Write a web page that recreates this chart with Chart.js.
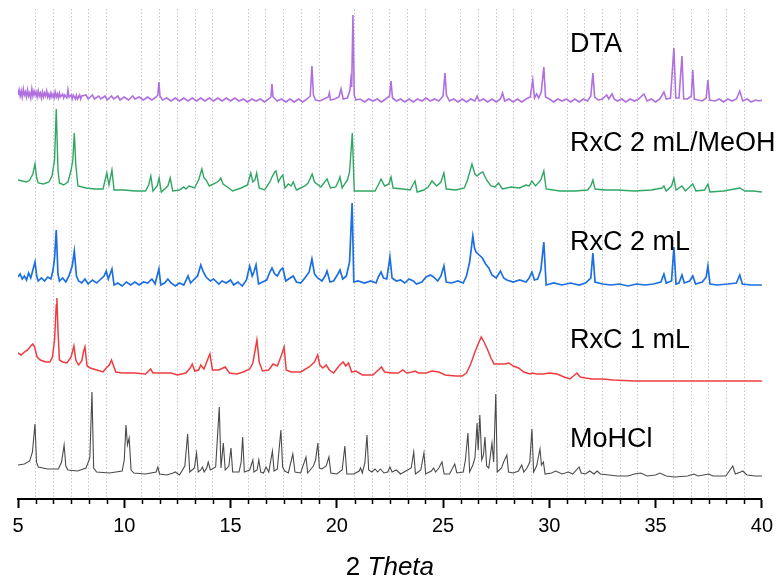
<!DOCTYPE html>
<html>
<head>
<meta charset="utf-8">
<script src="https://cdn.jsdelivr.net/npm/chart.js@4/dist/chart.umd.min.js"></script>
<style>
  html, body { margin: 0; padding: 0; background: #fff; }
  #box { width: 779px; height: 583px; }
</style>
</head>
<body>
<div id="box"><canvas id="grafico" width="779" height="583"></canvas></div>
<script>
// Series names, top to bottom
const nomes = ["DTA", "RxC 2 mL/MeOH", "RxC 2 mL", "RxC 1 mL", "MoHCl"];

// [2theta, intensity (a.u., stacked)]
const dta = [[5.0,404],[5.05,409],[5.1,403],[5.15,408],[5.2,402],[5.25,410],[5.3,404],[5.35,407],[5.4,402],[5.45,409],[5.5,403],[5.55,406],[5.6,401],[5.65,410],[5.7,403],[5.75,408],[5.8,404],[5.85,407],[5.9,402],[5.95,408],[6.0,403],[6.05,406],[6.1,401],[6.15,407],[6.2,402],[6.25,406],[6.3,403],[6.35,408],[6.4,402],[6.45,405],[6.5,401],[6.55,406],[6.6,402],[6.65,405],[6.7,401],[6.75,407],[6.8,402],[6.85,405],[6.9,401],[6.95,406],[7.0,402],[7.1,405],[7.15,401],[7.2,404],[7.3,401],[7.35,409],[7.4,402],[7.5,404],[7.55,400],[7.6,404],[7.7,400],[7.75,404],[7.8,400],[7.9,404],[7.95,400],[8.0,403],[8.2,404],[8.3,400],[8.5,404],[8.6,400],[8.8,403],[8.9,400],[9.1,403],[9.2,399],[9.4,403],[9.5,400],[9.7,403],[9.8,399],[10.0,402],[10.2,399],[10.4,403],[10.5,400],[10.7,402],[10.9,399],[11.1,402],[11.3,399],[11.5,402],[11.58,404],[11.63,417],[11.68,403],[11.8,399],[12.0,401],[12.2,398],[12.4,401],[12.6,398],[12.8,401],[13.0,398],[13.2,401],[13.4,398],[13.6,401],[13.8,398],[14.0,401],[14.2,398],[14.4,401],[14.6,398],[14.8,401],[15.0,398],[15.2,401],[15.4,398],[15.6,400],[15.8,397],[16.0,400],[16.2,398],[16.4,400],[16.6,397],[16.8,400],[16.9,402],[16.95,415],[17.0,402],[17.2,398],[17.4,400],[17.6,397],[17.8,400],[18.0,397],[18.2,400],[18.4,397],[18.6,400],[18.75,403],[18.83,433],[18.9,404],[19.0,399],[19.2,398],[19.4,400],[19.6,402],[19.65,406],[19.7,399],[19.9,400],[20.1,402],[20.2,410],[20.3,400],[20.5,401],[20.62,409],[20.66,419],[20.7,412],[20.76,484],[20.82,404],[20.9,399],[21.1,400],[21.3,397],[21.5,400],[21.7,398],[21.9,400],[22.1,397],[22.3,400],[22.48,403],[22.55,418],[22.62,401],[22.8,398],[23.0,400],[23.2,397],[23.4,400],[23.6,397],[23.8,400],[24.0,398],[24.2,401],[24.4,398],[24.6,400],[24.8,398],[25.0,403],[25.09,426],[25.16,404],[25.3,398],[25.5,400],[25.7,397],[25.9,400],[26.1,397],[26.3,400],[26.5,398],[26.6,403],[26.7,398],[26.9,400],[27.1,397],[27.3,400],[27.5,397],[27.7,400],[27.8,406],[27.9,398],[28.1,400],[28.3,397],[28.5,400],[28.7,397],[28.9,400],[29.1,402],[29.22,419],[29.3,401],[29.4,405],[29.5,401],[29.62,407],[29.74,432],[29.82,402],[30.0,400],[30.2,397],[30.4,400],[30.6,398],[30.8,400],[31.0,397],[31.2,400],[31.4,397],[31.6,400],[31.8,398],[31.95,403],[32.05,426],[32.13,402],[32.3,399],[32.5,400],[32.7,404],[32.8,400],[32.95,405],[33.05,400],[33.2,398],[33.4,400],[33.6,397],[33.8,400],[34.0,398],[34.2,400],[34.45,405],[34.6,398],[34.8,400],[35.0,397],[35.2,400],[35.39,407],[35.5,400],[35.7,401],[35.86,451],[35.95,401],[36.1,401],[36.24,443],[36.32,400],[36.5,400],[36.68,403],[36.75,429],[36.82,400],[37.0,399],[37.2,398],[37.38,401],[37.46,419],[37.54,399],[37.8,398],[38.0,400],[38.2,397],[38.4,400],[38.6,398],[38.8,400],[38.96,408],[39.1,398],[39.3,400],[39.5,397],[39.7,399],[39.9,398],[40.0,399]];

const rxc2MeOH = [[5.0,319],[5.2,318],[5.4,317],[5.55,319],[5.7,325],[5.8,335],[5.88,321],[5.95,316],[6.2,315],[6.45,317],[6.6,323],[6.72,339],[6.8,390],[6.88,329],[6.95,316],[7.15,314],[7.35,317],[7.5,329],[7.58,339],[7.65,366],[7.72,334],[7.82,313],[8.2,311],[8.6,310],[9.0,310],[9.1,319],[9.18,326],[9.28,314],[9.42,329],[9.52,309],[10.0,309],[10.5,308],[11.0,308],[11.15,314],[11.25,323],[11.35,308],[11.55,313],[11.64,321],[11.74,307],[12.05,313],[12.16,321],[12.28,308],[12.6,309],[12.8,312],[12.9,310],[13.05,313],[13.3,311],[13.5,319],[13.65,330],[13.75,321],[13.85,319],[14.0,313],[14.1,314],[14.3,316],[14.45,318],[14.54,321],[14.65,315],[14.85,312],[15.1,308],[15.5,311],[15.8,314],[15.95,326],[16.05,317],[16.15,319],[16.23,326],[16.35,311],[16.6,309],[16.85,317],[16.95,322],[17.08,327],[17.14,328],[17.25,317],[17.38,322],[17.46,324],[17.56,311],[17.72,315],[17.85,313],[17.95,317],[18.1,309],[18.5,313],[18.65,316],[18.84,325],[18.95,317],[19.25,312],[19.54,320],[19.7,311],[19.95,312],[20.1,319],[20.15,322],[20.25,311],[20.5,319],[20.6,327],[20.73,366],[20.82,308],[21.3,308],[21.8,308],[21.95,314],[22.08,320],[22.25,313],[22.45,315],[22.55,322],[22.65,311],[23.1,310],[23.45,309],[23.6,315],[23.68,318],[23.78,307],[24.1,309],[24.3,312],[24.48,318],[24.7,313],[24.9,317],[25.04,326],[25.15,310],[25.6,309],[26.0,311],[26.15,319],[26.36,335],[26.5,325],[26.6,323],[26.75,326],[26.87,327],[27.05,319],[27.25,313],[27.45,312],[27.6,316],[27.8,310],[28.2,312],[28.6,311],[28.9,314],[29.05,313],[29.18,318],[29.35,313],[29.6,319],[29.74,328],[29.85,310],[30.5,308],[31.2,308],[31.8,309],[31.95,313],[32.05,319],[32.15,310],[32.6,309],[33.2,309],[34.0,308],[34.8,309],[35.3,311],[35.39,313],[35.5,308],[35.75,313],[35.86,321],[35.96,309],[36.24,313],[36.4,308],[36.75,315],[36.9,308],[37.3,309],[37.46,315],[37.56,307],[38.2,308],[38.96,311],[39.2,308],[39.6,308],[40.0,307]];

const rxc2 = [[5.0,222],[5.1,225],[5.2,220],[5.3,223],[5.4,219],[5.5,226],[5.6,221],[5.7,229],[5.8,237],[5.88,223],[5.95,218],[6.1,221],[6.25,218],[6.4,222],[6.55,220],[6.65,229],[6.72,241],[6.8,269],[6.88,225],[6.95,218],[7.1,221],[7.25,217],[7.4,223],[7.55,233],[7.65,248],[7.75,223],[7.85,218],[8.0,216],[8.15,220],[8.3,215],[8.5,219],[8.7,216],[8.9,220],[9.05,223],[9.15,228],[9.25,220],[9.42,230],[9.52,214],[9.7,216],[9.9,213],[10.1,217],[10.3,214],[10.5,217],[10.7,214],[10.9,217],[11.1,216],[11.3,220],[11.45,215],[11.63,230],[11.72,214],[11.9,216],[12.05,220],[12.2,216],[12.4,213],[12.6,216],[12.8,214],[13.0,223],[13.12,216],[13.3,220],[13.45,223],[13.6,234],[13.72,227],[13.85,222],[14.05,218],[14.2,220],[14.45,215],[14.6,218],[14.8,216],[15.0,219],[15.15,214],[15.35,217],[15.55,213],[15.75,219],[15.9,233],[16.02,223],[16.1,227],[16.2,234],[16.32,215],[16.5,217],[16.7,219],[16.85,227],[16.95,231],[17.08,225],[17.2,223],[17.35,229],[17.46,231],[17.6,218],[17.8,221],[17.95,223],[18.1,217],[18.3,216],[18.5,221],[18.7,227],[18.83,240],[18.95,225],[19.1,221],[19.3,218],[19.45,223],[19.54,228],[19.68,217],[19.85,218],[20.05,225],[20.15,229],[20.28,220],[20.45,223],[20.6,237],[20.72,296],[20.8,217],[21.0,218],[21.3,216],[21.6,218],[21.85,216],[21.95,222],[22.08,227],[22.2,221],[22.35,220],[22.5,242],[22.6,221],[22.8,218],[23.0,219],[23.2,216],[23.4,220],[23.6,218],[23.75,215],[24.0,217],[24.2,222],[24.4,224],[24.55,222],[24.75,218],[24.9,223],[25.04,233],[25.15,217],[25.4,216],[25.7,218],[25.95,216],[26.1,223],[26.25,237],[26.4,263],[26.48,251],[26.55,247],[26.7,244],[26.85,241],[27.0,235],[27.15,231],[27.3,224],[27.5,221],[27.7,228],[27.85,221],[28.0,219],[28.3,217],[28.6,219],[28.9,217],[29.05,221],[29.18,227],[29.3,219],[29.45,220],[29.6,229],[29.74,257],[29.85,214],[30.2,216],[30.6,214],[31.0,216],[31.4,214],[31.7,216],[31.95,221],[32.05,246],[32.15,217],[32.5,215],[32.9,214],[33.3,215],[33.7,213],[34.1,215],[34.5,214],[34.9,215],[35.25,217],[35.39,225],[35.5,216],[35.75,218],[35.86,252],[35.96,215],[36.1,216],[36.24,224],[36.35,216],[36.6,218],[36.75,223],[36.88,215],[37.2,217],[37.38,222],[37.46,233],[37.56,215],[37.9,214],[38.4,215],[38.8,216],[38.96,224],[39.08,215],[39.5,214],[40.0,214]];

const rxc1 = [[5.0,146],[5.15,144],[5.3,147],[5.45,149],[5.6,153],[5.7,155],[5.78,152],[5.9,142],[6.05,139],[6.3,137],[6.5,137],[6.62,142],[6.72,159],[6.8,194],[6.83,201],[6.88,169],[6.95,139],[7.1,137],[7.3,136],[7.5,142],[7.63,153],[7.72,139],[7.85,134],[8.0,138],[8.08,147],[8.15,152],[8.25,133],[8.4,131],[8.7,129],[9.0,127],[9.15,131],[9.3,134],[9.4,139],[9.5,133],[9.6,127],[9.9,126],[10.5,126],[11.0,125],[11.15,128],[11.24,130],[11.35,126],[11.7,126],[12.2,126],[12.5,124],[12.9,126],[13.1,131],[13.2,135],[13.32,128],[13.5,129],[13.6,134],[13.75,130],[13.95,141],[14.03,145],[14.15,129],[14.45,129],[14.65,131],[14.75,132],[14.95,126],[15.3,125],[15.6,127],[15.9,130],[16.05,136],[16.24,159],[16.35,137],[16.5,128],[16.8,129],[17.0,135],[17.2,133],[17.4,144],[17.52,152],[17.62,129],[17.85,127],[18.3,127],[18.7,132],[18.95,137],[19.1,144],[19.2,134],[19.35,131],[19.5,134],[19.65,129],[19.85,126],[20.1,133],[20.3,137],[20.42,133],[20.55,136],[20.7,127],[20.9,128],[21.2,124],[21.7,124],[21.95,129],[22.1,132],[22.25,127],[22.6,126],[22.9,126],[23.1,129],[23.3,126],[23.55,127],[23.68,128],[23.85,126],[24.2,126],[24.48,128],[24.8,127],[25.1,124],[25.6,123],[25.9,123],[26.1,126],[26.3,135],[26.5,147],[26.65,155],[26.8,162],[26.95,156],[27.1,149],[27.25,141],[27.4,135],[27.6,135],[27.9,135],[28.1,136],[28.3,133],[28.55,131],[28.8,127],[29.1,125],[29.2,126],[29.4,125],[29.7,125],[30.0,126],[30.36,125],[30.7,122],[30.97,120],[31.3,126],[31.45,122],[31.7,121],[32.0,120],[32.5,120],[33.0,119],[34.0,118],[35.0,118],[36.0,118],[37.0,118],[38.0,118],[39.0,118],[40.0,118]];

const moHCl = [[5.0,34],[5.3,35],[5.55,38],[5.68,47],[5.8,75],[5.87,37],[5.95,32],[6.4,30],[6.9,30],[7.05,37],[7.17,54],[7.25,33],[7.35,29],[7.8,28],[8.2,31],[8.38,41],[8.48,107],[8.56,31],[8.7,27],[9.3,26],[9.9,28],[10.0,39],[10.08,74],[10.15,54],[10.23,61],[10.32,29],[10.45,26],[11.0,25],[11.5,27],[11.58,32],[11.66,25],[12.0,24],[12.3,26],[12.4,27],[12.6,24],[12.85,33],[12.98,65],[13.08,27],[13.3,31],[13.4,46],[13.48,27],[13.6,29],[13.68,32],[13.76,27],[13.88,31],[13.95,37],[14.05,29],[14.3,32],[14.47,92],[14.55,31],[14.66,56],[14.75,29],[14.92,33],[15.02,51],[15.1,27],[15.4,27],[15.5,37],[15.57,62],[15.65,27],[15.9,29],[16.05,39],[16.1,27],[16.25,29],[16.33,39],[16.42,27],[16.55,26],[16.67,32],[16.8,27],[16.97,48],[17.05,28],[17.2,30],[17.37,69],[17.45,32],[17.55,28],[17.72,26],[17.93,45],[18.03,27],[18.3,26],[18.55,42],[18.63,26],[18.9,33],[19.0,39],[19.11,56],[19.18,31],[19.3,30],[19.5,33],[19.63,42],[19.72,26],[20.0,25],[20.25,29],[20.38,53],[20.47,25],[20.8,25],[21.05,28],[21.12,31],[21.2,26],[21.32,36],[21.42,64],[21.5,29],[21.65,27],[21.8,30],[21.92,27],[22.05,30],[22.22,26],[22.4,27],[22.5,32],[22.6,27],[22.8,29],[23.0,25],[23.5,31],[23.62,47],[23.7,25],[23.95,29],[24.1,46],[24.18,25],[24.45,28],[24.55,31],[24.65,27],[24.8,31],[24.95,37],[25.05,25],[25.3,25],[25.55,35],[25.65,26],[25.95,27],[26.05,39],[26.17,66],[26.25,27],[26.4,34],[26.5,41],[26.6,76],[26.65,49],[26.73,84],[26.82,39],[26.9,44],[26.97,62],[27.05,33],[27.15,31],[27.3,56],[27.38,37],[27.48,105],[27.55,27],[27.75,31],[27.85,37],[28.0,44],[28.08,27],[28.3,26],[28.55,28],[28.7,34],[28.8,27],[28.95,31],[29.08,37],[29.18,70],[29.26,27],[29.4,33],[29.56,50],[29.63,34],[29.72,37],[29.8,25],[30.1,26],[30.3,28],[30.6,25],[30.9,27],[31.1,25],[31.4,32],[31.5,26],[31.7,25],[31.9,28],[32.1,25],[32.25,28],[32.4,25],[32.8,24],[33.2,23],[33.7,23],[34.0,25],[34.3,26],[34.6,23],[35.0,24],[35.2,26],[35.5,23],[35.9,22],[36.5,23],[36.8,25],[37.0,23],[37.5,25],[37.7,23],[38.3,23],[38.5,29],[38.63,33],[38.75,25],[39.0,27],[39.1,28],[39.3,24],[39.7,23],[40.0,23]];

// x axis: labels every 5, minor ticks every 5/6
const majorTicks = [5, 10, 15, 20, 25, 30, 35, 40];
const ticksX = [];
for (let i = 0; i <= 42; i++) ticksX.push(5 + i * 5 / 6);

const series = [dta, rxc2MeOH, rxc2, rxc1, moHCl];
const cores = ["#b070e0", "#2fa663", "#1b6fe0", "#ef3c3f", "#4a4a4a"];
const espessuras = [1.6, 1.4, 1.7, 1.5, 1.1];
const fonte = "'Liberation Sans', Arial, sans-serif";

const ehMajor = v => majorTicks.some(m => Math.abs(m - v) < 1e-6);

// rotulos a direita + ticks menores + titulo do eixo
const extras = {
    id: "extras",
    afterDraw(chart) {
        const ctx = chart.ctx;
        const sx = chart.scales.x;
        const sy = chart.scales.y;
        const base = chart.chartArea.bottom;

        ctx.save();
        ctx.strokeStyle = "#000";
        ctx.lineWidth = 1.5;
        sx.ticks.forEach(t => {
            if (ehMajor(t.value)) return;
            const px = Math.round(sx.getPixelForValue(t.value)) + 0.5;
            ctx.beginPath();
            ctx.moveTo(px, base);
            ctx.lineTo(px, base + 5);
            ctx.stroke();
        });

        // nomes das amostras
        const posY = [447, 348, 249, 151, 52];
        ctx.fillStyle = "#000";
        ctx.font = "27px " + fonte;
        ctx.textBaseline = "alphabetic";
        ctx.textAlign = "left";
        nomes.forEach((n, i) => {
            ctx.fillText(n, sx.getPixelForValue(30.97), sy.getPixelForValue(posY[i]));
        });

        // titulo "2 Theta"
        ctx.font = "26px " + fonte;
        const a = "2 ";
        const wa = ctx.measureText(a).width;
        ctx.font = "italic 26px " + fonte;
        const b = "Theta";
        const wb = ctx.measureText(b).width;
        const cx = (chart.chartArea.left + chart.chartArea.right) / 2;
        const x0 = cx - (wa + wb) / 2;
        ctx.font = "26px " + fonte;
        ctx.fillText(a, x0, 575);
        ctx.font = "italic 26px " + fonte;
        ctx.fillText(b, x0 + wa, 575);
        ctx.restore();
    }
};

const datasets = series.map((s, i) => ({
    label: nomes[i],
    data: s.map(p => ({ x: p[0], y: p[1] })),
    borderColor: cores[i],
    borderWidth: espessuras[i],
    pointRadius: 0,
    tension: 0,
    fill: false
}));

new Chart(document.getElementById("grafico"), {
    type: "line",
    data: { datasets },
    options: {
        responsive: false,
        animation: false,
        layout: { padding: { left: 18, right: 17, top: 9, bottom: 39 } },
        plugins: { legend: { display: false }, tooltip: { enabled: false } },
        scales: {
            x: {
                type: "linear",
                min: 5,
                max: 40,
                afterBuildTicks: s => { s.ticks = ticksX.map(v => ({ value: v })); },
                ticks: {
                    autoSkip: false,
                    maxRotation: 0,
                    padding: 6,
                    color: "#000",
                    font: { family: fonte, size: 20 },
                    callback: v => ehMajor(v) ? String(Math.round(v)) : ""
                },
                grid: {
                    color: c => (c.tick && ehMajor(c.tick.value)) ? "rgba(0,0,0,0)" : "#c8c8c8",
                    lineWidth: 1,
                    tickLength: 9,
                    tickWidth: 2,
                    tickColor: c => (c.tick && ehMajor(c.tick.value)) ? "#000" : "rgba(0,0,0,0)"
                },
                border: { display: true, color: "#000", width: 2, dash: [1.5, 2] }
            },
            y: {
                display: false,
                min: 0,
                max: 490
            }
        }
    },
    plugins: [extras]
});
</script>
</body>
</html>
